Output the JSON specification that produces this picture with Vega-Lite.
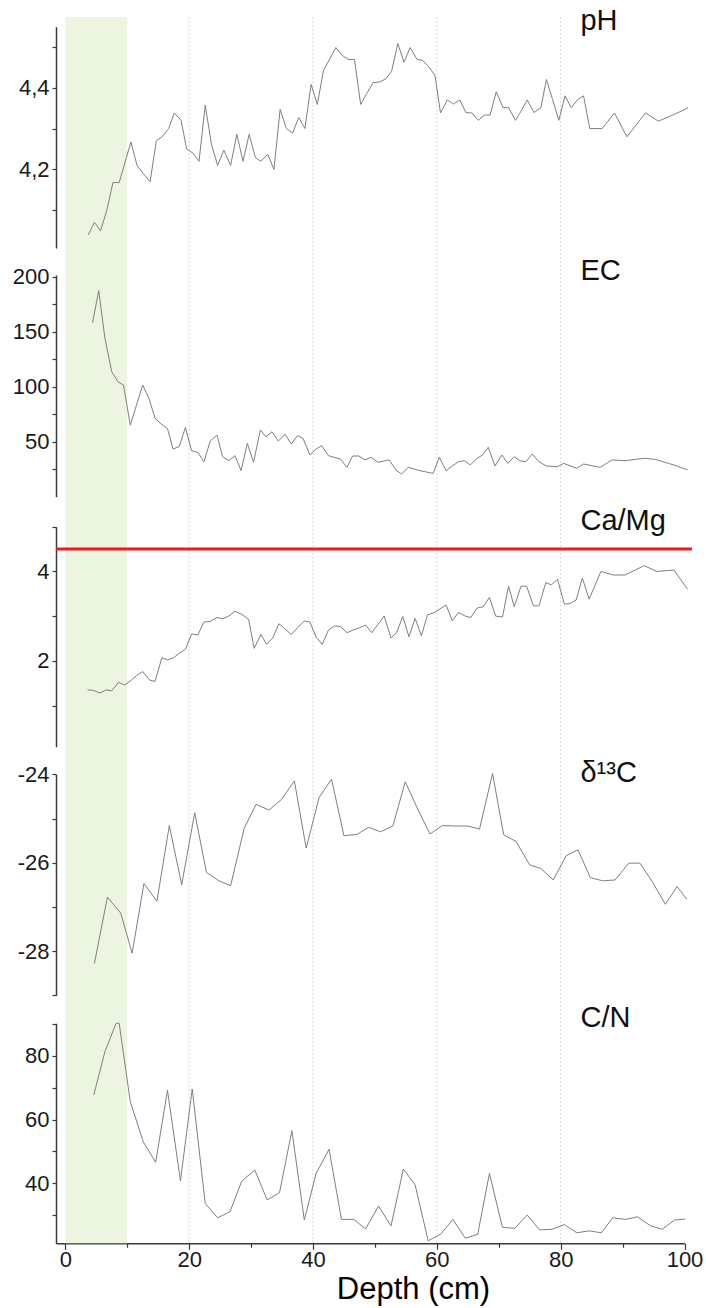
{
  "$schema": "https://vega.github.io/schema/vega-lite/v6.json",
  "autosize": {"type": "none"},
  "width": 628.5,
  "height": 1226.3,
  "padding": {"left": 56, "top": 17, "right": 21.5, "bottom": 64.7},
  "background": "white",
  "config": {
    "view": {"stroke": null},
    "font": "Liberation Sans",
    "axis": {
      "labelFont": "Liberation Sans",
      "labelFontSize": 22,
      "labelColor": "#1a1a1a",
      "domainColor": "#3a3a3a",
      "domainWidth": 1.5,
      "tickColor": "#3a3a3a",
      "tickWidth": 1.2,
      "tickSize": 4,
      "labelPadding": 3,
      "grid": false,
      "labelFlush": false,
      "labelOverlap": false,
      "labelBound": false
    }
  },
  "datasets": {
    "ph": [
      {"depth":3.7,"value":4.04},{"depth":4.7,"value":4.071},{"depth":5.7,"value":4.05},{"depth":6.7,"value":4.10},
      {"depth":7.7,"value":4.168},{"depth":8.7,"value":4.168},{"depth":10.6,"value":4.267},{"depth":11.6,"value":4.209},
      {"depth":12.6,"value":4.19},{"depth":13.7,"value":4.17},{"depth":14.7,"value":4.27},{"depth":15.7,"value":4.281},
      {"depth":16.7,"value":4.30},{"depth":17.6,"value":4.338},{"depth":18.7,"value":4.32},{"depth":19.6,"value":4.25},
      {"depth":20.6,"value":4.24},{"depth":21.6,"value":4.22},{"depth":22.6,"value":4.357},{"depth":23.6,"value":4.262},
      {"depth":24.6,"value":4.21},{"depth":25.6,"value":4.247},{"depth":26.7,"value":4.21},{"depth":27.7,"value":4.286},
      {"depth":28.7,"value":4.22},{"depth":29.7,"value":4.286},{"depth":30.7,"value":4.229},{"depth":31.6,"value":4.22},
      {"depth":32.7,"value":4.237},{"depth":33.7,"value":4.20},{"depth":34.7,"value":4.347},{"depth":35.7,"value":4.30},
      {"depth":36.7,"value":4.289},{"depth":37.7,"value":4.327},{"depth":38.7,"value":4.30},{"depth":39.7,"value":4.408},
      {"depth":40.7,"value":4.359},{"depth":41.7,"value":4.442},{"depth":43.7,"value":4.498},{"depth":44.7,"value":4.479},
      {"depth":45.7,"value":4.469},{"depth":46.7,"value":4.469},{"depth":47.7,"value":4.359},{"depth":48.7,"value":4.386},
      {"depth":49.7,"value":4.412},{"depth":50.8,"value":4.414},{"depth":51.8,"value":4.422},{"depth":52.7,"value":4.44},
      {"depth":53.7,"value":4.508},{"depth":54.7,"value":4.462},{"depth":55.7,"value":4.498},{"depth":56.8,"value":4.469},
      {"depth":57.7,"value":4.467},{"depth":58.7,"value":4.451},{"depth":59.7,"value":4.43},{"depth":60.6,"value":4.338},
      {"depth":61.7,"value":4.37},{"depth":62.7,"value":4.36},{"depth":63.7,"value":4.37},{"depth":64.7,"value":4.339},
      {"depth":65.7,"value":4.338},{"depth":66.7,"value":4.32},{"depth":67.7,"value":4.333},{"depth":68.6,"value":4.333},
      {"depth":69.6,"value":4.39},{"depth":70.7,"value":4.351},{"depth":71.6,"value":4.351},{"depth":72.7,"value":4.32},
      {"depth":73.7,"value":4.345},{"depth":74.6,"value":4.37},{"depth":75.7,"value":4.339},{"depth":76.8,"value":4.351},
      {"depth":77.7,"value":4.42},{"depth":78.7,"value":4.371},{"depth":79.7,"value":4.32},{"depth":80.7,"value":4.38},
      {"depth":81.7,"value":4.351},{"depth":82.7,"value":4.37},{"depth":83.7,"value":4.38},{"depth":84.7,"value":4.30},
      {"depth":86.7,"value":4.30},{"depth":88.7,"value":4.338},{"depth":90.7,"value":4.28},{"depth":93.7,"value":4.338},
      {"depth":95.8,"value":4.318},{"depth":98.7,"value":4.337},{"depth":100.6,"value":4.351}
    ],
    "ec": [
      {"depth":4.4,"value":158},{"depth":5.4,"value":187.3},{"depth":6.4,"value":144},{"depth":7.5,"value":113.6},
      {"depth":8.5,"value":104.5},{"depth":9.4,"value":101.5},{"depth":10.5,"value":65},{"depth":12.5,"value":101.5},
      {"depth":13.5,"value":89.5},{"depth":14.5,"value":71.3},{"depth":15.5,"value":66},{"depth":16.5,"value":62},
      {"depth":17.4,"value":43.4},{"depth":18.4,"value":45.5},{"depth":19.4,"value":63},{"depth":20.4,"value":41.8},
      {"depth":21.4,"value":40.3},{"depth":22.4,"value":31.8},{"depth":23.4,"value":50.6},{"depth":24.5,"value":56},
      {"depth":25.4,"value":36.4},{"depth":26.4,"value":32.7},{"depth":27.4,"value":37.3},{"depth":28.4,"value":23.6},
      {"depth":29.4,"value":48.5},{"depth":30.4,"value":31.3},{"depth":31.5,"value":60.6},{"depth":32.4,"value":54.5},
      {"depth":33.4,"value":59},{"depth":34.4,"value":50.6},{"depth":35.5,"value":56.7},{"depth":36.5,"value":47.9},
      {"depth":37.5,"value":55.5},{"depth":38.4,"value":53},{"depth":39.5,"value":37.9},{"depth":40.4,"value":43},
      {"depth":41.4,"value":46.4},{"depth":42.5,"value":37.3},{"depth":43.4,"value":35.8},{"depth":44.4,"value":34.3},
      {"depth":45.5,"value":26.7},{"depth":46.4,"value":37},{"depth":47.4,"value":37},{"depth":48.4,"value":33.4},
      {"depth":49.4,"value":35.8},{"depth":50.5,"value":31.3},{"depth":52.3,"value":33.4},{"depth":53.4,"value":24.3},
      {"depth":54.3,"value":20.6},{"depth":55.4,"value":26.7},{"depth":57.3,"value":23.6},{"depth":59.4,"value":21.2},
      {"depth":60.4,"value":35.8},{"depth":61.5,"value":23.6},{"depth":62.5,"value":27.9},{"depth":63.5,"value":31.8},
      {"depth":64.5,"value":32.7},{"depth":65.4,"value":28.8},{"depth":66.5,"value":34.9},{"depth":67.4,"value":37.9},
      {"depth":68.3,"value":44.9},{"depth":69.4,"value":27.9},{"depth":70.5,"value":37.9},{"depth":71.5,"value":30.3},
      {"depth":72.5,"value":36.4},{"depth":73.4,"value":32.7},{"depth":74.4,"value":31.8},{"depth":75.4,"value":38.8},
      {"depth":76.5,"value":31.8},{"depth":77.7,"value":27.9},{"depth":79.5,"value":27.3},{"depth":80.5,"value":30.3},
      {"depth":82.6,"value":25.8},{"depth":83.7,"value":29.7},{"depth":86.4,"value":26.7},{"depth":88.3,"value":33.4},
      {"depth":90.4,"value":32.7},{"depth":93.5,"value":34.9},{"depth":95.3,"value":33.9},{"depth":97.4,"value":30.3},
      {"depth":98.8,"value":27.9},{"depth":100.5,"value":24.3}
    ],
    "camg": [
      {"depth":3.6,"value":1.35},{"depth":4.5,"value":1.34},{"depth":5.6,"value":1.28},{"depth":6.6,"value":1.35},
      {"depth":7.5,"value":1.33},{"depth":8.6,"value":1.52},{"depth":9.6,"value":1.46},{"depth":10.7,"value":1.57},
      {"depth":11.5,"value":1.67},{"depth":12.5,"value":1.76},{"depth":13.6,"value":1.57},{"depth":14.5,"value":1.54},
      {"depth":15.6,"value":2.07},{"depth":16.5,"value":2.02},{"depth":17.5,"value":2.07},{"depth":18.4,"value":2.17},
      {"depth":19.4,"value":2.26},{"depth":20.4,"value":2.60},{"depth":21.4,"value":2.58},{"depth":22.4,"value":2.87},
      {"depth":23.4,"value":2.88},{"depth":24.5,"value":2.97},{"depth":25.4,"value":2.94},{"depth":26.4,"value":3.0},
      {"depth":27.4,"value":3.11},{"depth":28.5,"value":3.04},{"depth":29.6,"value":2.93},{"depth":30.5,"value":2.28},
      {"depth":31.6,"value":2.59},{"depth":32.5,"value":2.37},{"depth":33.5,"value":2.51},{"depth":34.5,"value":2.83},
      {"depth":35.5,"value":2.71},{"depth":36.5,"value":2.59},{"depth":37.5,"value":2.74},{"depth":38.6,"value":2.89},
      {"depth":39.5,"value":2.87},{"depth":40.5,"value":2.53},{"depth":41.5,"value":2.37},{"depth":42.5,"value":2.69},
      {"depth":43.5,"value":2.78},{"depth":44.4,"value":2.77},{"depth":45.5,"value":2.63},{"depth":46.5,"value":2.69},
      {"depth":47.5,"value":2.74},{"depth":48.5,"value":2.80},{"depth":49.5,"value":2.63},{"depth":51.5,"value":3.0},
      {"depth":52.6,"value":2.51},{"depth":53.5,"value":2.63},{"depth":54.5,"value":2.99},{"depth":55.5,"value":2.54},
      {"depth":56.5,"value":2.95},{"depth":57.5,"value":2.56},{"depth":58.5,"value":3.03},{"depth":59.6,"value":3.08},
      {"depth":61.5,"value":3.25},{"depth":62.5,"value":2.90},{"depth":63.5,"value":3.08},{"depth":64.6,"value":3.00},
      {"depth":65.5,"value":2.97},{"depth":66.5,"value":3.18},{"depth":67.5,"value":3.21},{"depth":68.5,"value":3.42},
      {"depth":69.5,"value":3.00},{"depth":70.6,"value":2.98},{"depth":71.6,"value":3.67},{"depth":72.5,"value":3.21},
      {"depth":73.6,"value":3.67},{"depth":74.5,"value":3.67},{"depth":75.6,"value":3.23},{"depth":76.5,"value":3.23},
      {"depth":77.6,"value":3.75},{"depth":78.5,"value":3.70},{"depth":79.5,"value":3.82},{"depth":80.6,"value":3.27},
      {"depth":81.5,"value":3.28},{"depth":82.5,"value":3.36},{"depth":83.5,"value":3.85},{"depth":84.6,"value":3.38},
      {"depth":86.5,"value":4.00},{"depth":88.5,"value":3.92},{"depth":90.4,"value":3.92},{"depth":93.5,"value":4.13},
      {"depth":95.5,"value":4.00},{"depth":98.3,"value":4.03},{"depth":100.5,"value":3.60}
    ],
    "d13c": [
      {"depth":4.7,"value":-28.28},{"depth":6.8,"value":-26.78},{"depth":8.95,"value":-27.14},{"depth":10.8,"value":-28.05},
      {"depth":12.7,"value":-26.47},{"depth":14.8,"value":-26.87},{"depth":16.8,"value":-25.16},{"depth":18.8,"value":-26.5},
      {"depth":20.9,"value":-24.87},{"depth":22.8,"value":-26.22},{"depth":24.8,"value":-26.41},{"depth":26.7,"value":-26.52},
      {"depth":28.9,"value":-25.22},{"depth":30.8,"value":-24.68},{"depth":32.9,"value":-24.81},{"depth":34.9,"value":-24.57},
      {"depth":37.0,"value":-24.15},{"depth":38.9,"value":-25.67},{"depth":41.0,"value":-24.52},{"depth":43.0,"value":-24.11},
      {"depth":45.0,"value":-25.39},{"depth":47.1,"value":-25.36},{"depth":49.0,"value":-25.2},{"depth":50.9,"value":-25.3},
      {"depth":52.9,"value":-25.17},{"depth":54.9,"value":-24.17},{"depth":57.0,"value":-24.81},{"depth":58.9,"value":-25.35},
      {"depth":60.9,"value":-25.16},{"depth":63.0,"value":-25.17},{"depth":65.0,"value":-25.17},{"depth":66.9,"value":-25.24},
      {"depth":69.0,"value":-23.98},{"depth":70.8,"value":-25.37},{"depth":72.8,"value":-25.52},{"depth":75.0,"value":-26.05},
      {"depth":76.8,"value":-26.13},{"depth":78.8,"value":-26.39},{"depth":80.9,"value":-25.84},{"depth":82.8,"value":-25.71},
      {"depth":84.8,"value":-26.34},{"depth":86.8,"value":-26.41},{"depth":88.8,"value":-26.39},{"depth":91.0,"value":-26.01},
      {"depth":92.8,"value":-26.01},{"depth":94.8,"value":-26.43},{"depth":96.9,"value":-26.94},{"depth":98.8,"value":-26.54},
      {"depth":100.4,"value":-26.83}
    ],
    "cn": [
      {"depth":4.6,"value":67.7},{"depth":6.4,"value":81.3},{"depth":8.2,"value":90.2},{"depth":8.7,"value":90.2},
      {"depth":10.5,"value":65.6},{"depth":12.6,"value":53.0},{"depth":14.6,"value":46.6},{"depth":16.5,"value":69.2},
      {"depth":18.6,"value":40.8},{"depth":20.5,"value":69.6},{"depth":22.6,"value":33.7},{"depth":24.6,"value":29.2},
      {"depth":26.6,"value":31.1},{"depth":28.5,"value":40.7},{"depth":30.6,"value":44.2},{"depth":32.6,"value":34.8},
      {"depth":34.6,"value":37.1},{"depth":36.6,"value":56.5},{"depth":38.6,"value":28.5},{"depth":40.5,"value":43.1},
      {"depth":42.6,"value":50.7},{"depth":44.6,"value":28.7},{"depth":46.6,"value":28.7},{"depth":48.5,"value":25.7},
      {"depth":50.6,"value":32.9},{"depth":52.6,"value":26.6},{"depth":54.6,"value":44.5},{"depth":56.5,"value":39.5},
      {"depth":58.6,"value":22.0},{"depth":60.6,"value":24.0},{"depth":62.6,"value":28.7},{"depth":64.6,"value":22.8},
      {"depth":66.6,"value":24.0},{"depth":68.5,"value":43.1},{"depth":70.6,"value":26.2},{"depth":72.6,"value":25.9},
      {"depth":74.6,"value":30.1},{"depth":76.6,"value":25.4},{"depth":78.6,"value":25.6},{"depth":80.6,"value":27.1},
      {"depth":82.6,"value":24.5},{"depth":84.6,"value":25.1},{"depth":86.6,"value":24.5},{"depth":88.4,"value":29.2},
      {"depth":90.5,"value":28.7},{"depth":92.4,"value":29.5},{"depth":94.5,"value":26.7},{"depth":96.4,"value":25.6},
      {"depth":98.4,"value":28.5},{"depth":100.1,"value":28.8}
    ]
  },
  "encoding": {
    "x": {
      "field": "depth",
      "type": "quantitative",
      "scale": {"domain": [-1.5, 100], "nice": false, "zero": false},
      "axis": {
        "orient": "bottom",
        "values": [0, 10, 20, 30, 40, 50, 60, 70, 80, 90, 100],
        "labelExpr": "datum.value % 20 === 0 ? datum.label : ''",
        "tickSize": {"condition": {"test": "datum.value % 20 === 0", "value": 6}, "value": 4},
        "labelPadding": 0,
        "grid": false,
        "title": "Depth (cm)",
        "titleFont": "Liberation Sans",
        "titleFontSize": 31,
        "titleFontWeight": "normal",
        "titleColor": "#000000",
        "titleX": 357,
        "titleY": 55,
        "titleAlign": "center",
        "titleBaseline": "alphabetic"
      }
    }
  },
  "layer": [
    {
      "data": {"values": [{"depth": 0, "depth_end": 10}]},
      "mark": {"type": "rect", "color": "#ebf5e0"},
      "encoding": {"x2": {"field": "depth_end"}}
    },
    {
      "data": {"values": [{"depth": 20}, {"depth": 40}, {"depth": 60}, {"depth": 80}]},
      "mark": {"type": "rule", "color": "#dadada", "strokeWidth": 1, "strokeDash": [2, 2]},
      "encoding": {}
    },
    {
      "layer": [
        {
          "data": {"name": "ph"},
          "mark": {"type": "line", "color": "#808080", "strokeWidth": 1},
          "encoding": {
            "y": {
              "field": "value", "type": "quantitative",
              "scale": {"domain": [4.008, 4.549], "range": [231, 9.7], "nice": false, "zero": false},
              "axis": {
                "orient": "left", "title": null,
                "values": [4.1, 4.2, 4.3, 4.4, 4.5],
                "labelExpr": "(abs(datum.value - 4.2) < 0.001 || abs(datum.value - 4.4) < 0.001) ? replace(format(datum.value, '.1f'), '.', ',') : ''"
              }
            }
          }
        },
        {
          "data": {"values": [{"depth": 83.2, "value": 4.542, "label": "pH"}]},
          "mark": {"type": "text", "align": "left", "baseline": "alphabetic", "fontSize": 29, "font": "Liberation Sans", "color": "#111111"},
          "encoding": {
            "y": {"field": "value", "type": "quantitative", "scale": {"domain": [4.008, 4.549], "range": [231, 9.7], "nice": false, "zero": false}},
            "text": {"field": "label"}
          }
        }
      ]
    },
    {
      "layer": [
        {
          "data": {"name": "ec"},
          "mark": {"type": "line", "color": "#808080", "strokeWidth": 1},
          "encoding": {
            "y": {
              "field": "value", "type": "quantitative",
              "scale": {"domain": [0, 201.5], "range": [479.7, 258], "nice": false, "zero": false},
              "axis": {
                "orient": "left", "title": null,
                "values": [25, 50, 75, 100, 125, 150, 175, 200],
                "labelExpr": "datum.value % 50 === 0 ? format(datum.value, 'd') : ''"
              }
            }
          }
        },
        {
          "data": {"values": [{"depth": 83.2, "value": 197, "label": "EC"}]},
          "mark": {"type": "text", "align": "left", "baseline": "alphabetic", "fontSize": 29, "font": "Liberation Sans", "color": "#111111"},
          "encoding": {
            "y": {"field": "value", "type": "quantitative", "scale": {"domain": [0, 201.5], "range": [479.7, 258], "nice": false, "zero": false}},
            "text": {"field": "label"}
          }
        }
      ]
    },
    {
      "layer": [
        {
          "data": {"name": "camg"},
          "mark": {"type": "line", "color": "#808080", "strokeWidth": 1},
          "encoding": {
            "y": {
              "field": "value", "type": "quantitative",
              "scale": {"domain": [0.08, 5], "range": [729.7, 509.7], "nice": false, "zero": false},
              "axis": {
                "orient": "left", "title": null,
                "values": [1, 2, 3, 4, 5],
                "labelExpr": "datum.value % 2 === 0 ? format(datum.value, 'd') : ''"
              }
            }
          }
        },
        {
          "data": {"values": [{"depth": -1.5, "depth_end": 101.2, "value": 4.5}]},
          "mark": {"type": "rule", "color": "#ea1a1f", "strokeWidth": 3},
          "encoding": {
            "x2": {"field": "depth_end"},
            "y": {"field": "value", "type": "quantitative", "scale": {"domain": [0.08, 5], "range": [729.7, 509.7], "nice": false, "zero": false}}
          }
        },
        {
          "data": {"values": [{"depth": 83.2, "value": 4.926, "label": "Ca/Mg"}]},
          "mark": {"type": "text", "align": "left", "baseline": "alphabetic", "fontSize": 29, "font": "Liberation Sans", "color": "#111111"},
          "encoding": {
            "y": {"field": "value", "type": "quantitative", "scale": {"domain": [0.08, 5], "range": [729.7, 509.7], "nice": false, "zero": false}},
            "text": {"field": "label"}
          }
        }
      ]
    },
    {
      "layer": [
        {
          "data": {"name": "d13c"},
          "mark": {"type": "line", "color": "#808080", "strokeWidth": 1},
          "encoding": {
            "y": {
              "field": "value", "type": "quantitative",
              "scale": {"domain": [-29, -24], "range": [978.3, 757.3], "nice": false, "zero": false},
              "axis": {
                "orient": "left", "title": null,
                "values": [-29, -28, -27, -26, -25, -24],
                "labelExpr": "datum.value % 2 === 0 ? '-' + format(abs(datum.value), 'd') : ''"
              }
            }
          }
        },
        {
          "data": {"values": [{"depth": 83.2, "value": -24.17, "label": "δ¹³C"}]},
          "mark": {"type": "text", "align": "left", "baseline": "alphabetic", "fontSize": 29, "font": "Liberation Sans", "color": "#111111"},
          "encoding": {
            "y": {"field": "value", "type": "quantitative", "scale": {"domain": [-29, -24], "range": [978.3, 757.3], "nice": false, "zero": false}},
            "text": {"field": "label"}
          }
        }
      ]
    },
    {
      "layer": [
        {
          "data": {"name": "cn"},
          "mark": {"type": "line", "color": "#808080", "strokeWidth": 1},
          "encoding": {
            "y": {
              "field": "value", "type": "quantitative",
              "scale": {"domain": [21.2, 90.2], "range": [1226.3, 1006.3], "nice": false, "zero": false},
              "axis": {
                "orient": "left", "title": null,
                "values": [30, 40, 50, 60, 70, 80, 90],
                "labelExpr": "datum.value % 20 === 0 ? format(datum.value, 'd') : ''"
              }
            }
          }
        },
        {
          "data": {"values": [{"depth": 83.2, "value": 89.1, "label": "C/N"}]},
          "mark": {"type": "text", "align": "left", "baseline": "alphabetic", "fontSize": 29, "font": "Liberation Sans", "color": "#111111"},
          "encoding": {
            "y": {"field": "value", "type": "quantitative", "scale": {"domain": [21.2, 90.2], "range": [1226.3, 1006.3], "nice": false, "zero": false}},
            "text": {"field": "label"}
          }
        }
      ]
    }
  ],
  "resolve": {"scale": {"y": "independent"}, "axis": {"y": "independent"}}
}
